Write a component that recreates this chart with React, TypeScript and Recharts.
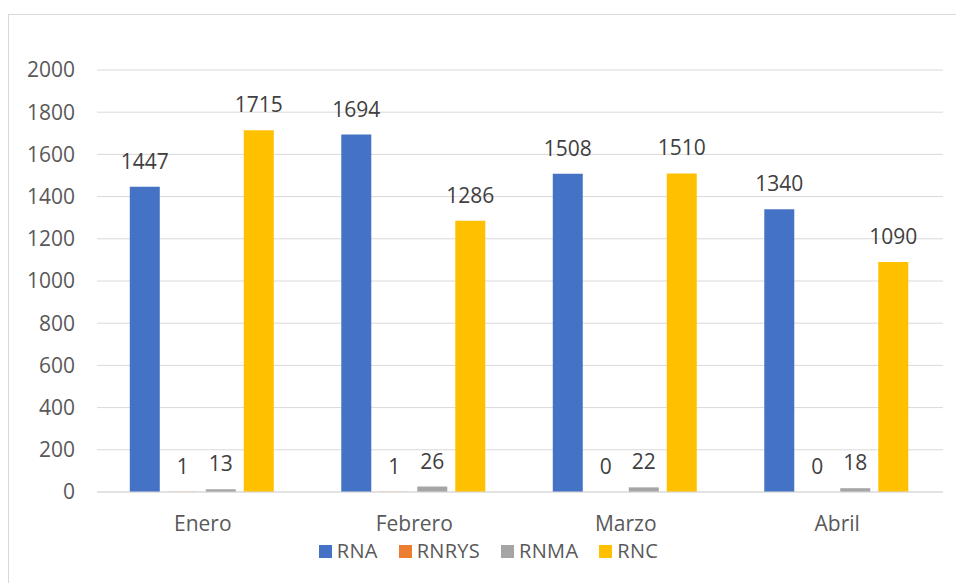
import { Bar, BarChart, CartesianGrid, LabelList, Legend, XAxis, YAxis } from 'recharts'

const months = ['Enero', 'Febrero', 'Marzo', 'Abril']
const rna = [1447, 1694, 1508, 1340]
const rnrys = [1, 1, 0, 0]
const rnma = [13, 26, 22, 18]
const rnc = [1715, 1286, 1510, 1090]
const yTicks = [0, 200, 400, 600, 800, 1000, 1200, 1400, 1600, 1800, 2000]

const series = [
  { key: 'RNA', values: rna, color: '#4472C4' },
  { key: 'RNRYS', values: rnrys, color: '#ED7D31' },
  { key: 'RNMA', values: rnma, color: '#A5A5A5' },
  { key: 'RNC', values: rnc, color: '#FFC000' },
]

const data = months.map((m, i) => {
  const row: Record<string, string | number> = { month: m }
  series.forEach((s) => {
    row[s.key] = s.values[i]
  })
  return row
})

const FONT = '"Open Sans", "Noto Sans", sans-serif'

// legend kept in series order (recharts sorts its payload by name otherwise)
function LegendRow() {
  return (
    <div
      style={{
        display: 'flex',
        justifyContent: 'center',
        fontFamily: FONT,
        fontSize: 20,
        letterSpacing: 0.3,
        lineHeight: '16px',
        color: '#595959',
        paddingLeft: 33,
      }}
    >
      {series.map((s) => (
        <div key={s.key} style={{ display: 'flex', alignItems: 'center', marginRight: 21 }}>
          <span style={{ width: 13, height: 13, background: s.color, marginRight: 5, display: 'inline-block' }} />
          <span>{s.key}</span>
        </div>
      ))}
    </div>
  )
}

export default function App() {
  return (
    <div
      style={{
        position: 'absolute',
        left: 8,
        top: 14,
        width: 948,
        height: 569,
        boxSizing: 'border-box',
        borderLeft: '1px solid #d9d9d9',
        borderTop: '1px solid #d9d9d9',
        background: '#fff',
      }}
    >
      <BarChart
        width={947}
        height={568}
        data={data}
        margin={{ top: 55, right: 13, bottom: 61, left: 0 }}
        barCategoryGap="15.5%"
        barGap={8}
      >
        <CartesianGrid vertical={false} stroke="#d9d9d9" />
        <XAxis
          dataKey="month"
          axisLine={{ stroke: '#d9d9d9' }}
          tickLine={false}
          tickSize={0}
          tickMargin={24}
          tick={{ fill: '#595959', fontSize: 21, fontFamily: FONT }}
        />
        <YAxis
          width={88}
          domain={[0, 2000]}
          ticks={yTicks}
          axisLine={false}
          tickLine={false}
          tickSize={0}
          tickMargin={22}
          tick={{ fill: '#595959', fontSize: 21, fontFamily: FONT }}
        />
        <Legend
          layout="horizontal"
          verticalAlign="middle"
          align="center"
          content={<LegendRow />}
          wrapperStyle={{ top: 528, left: 0, width: 947 }}
        />
        {series.map((s) => (
          <Bar key={s.key} dataKey={s.key} fill={s.color} minPointSize={0.01} isAnimationActive={false}>
            <LabelList
              dataKey={s.key}
              position="top"
              offset={18}
              fill="#404040"
              fontSize={21}
              fontFamily={FONT}
            />
          </Bar>
        ))}
      </BarChart>
    </div>
  )
}
